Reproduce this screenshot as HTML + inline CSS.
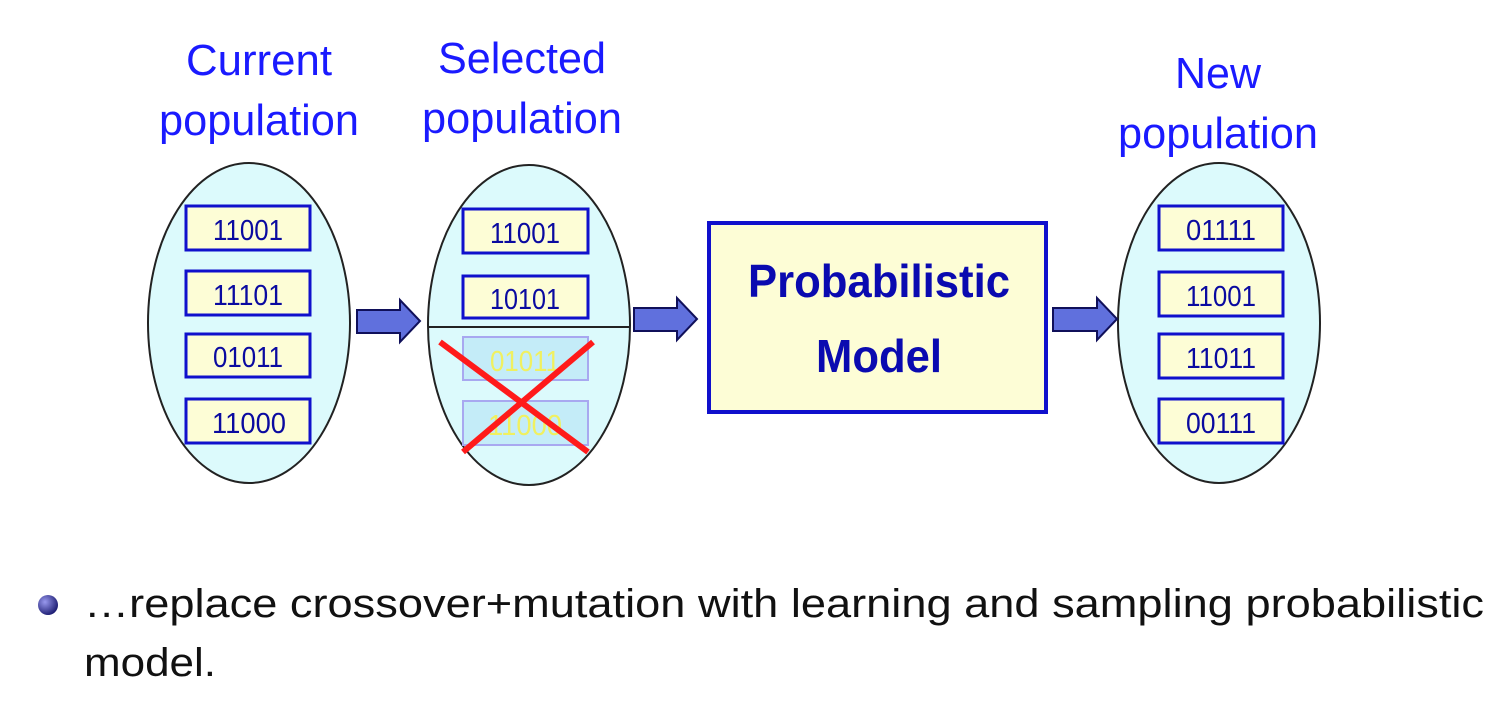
<!DOCTYPE html>
<html><head><meta charset="utf-8"><style>
html,body{margin:0;padding:0;background:#fff;width:1502px;height:716px;overflow:hidden}
svg{display:block}
</style></head><body>
<svg width="1502" height="716" viewBox="0 0 1502 716" xmlns="http://www.w3.org/2000/svg">
<defs>
<radialGradient id="bg" cx="0.35" cy="0.35" r="0.7">
<stop offset="0" stop-color="#9999ee"/><stop offset="1" stop-color="#1a1a70"/>
</radialGradient>
</defs>
<g font-family="Liberation Sans, Arial, sans-serif" fill="#1a1aff" font-size="44" text-anchor="middle">
<text x="259" y="75" textLength="146" lengthAdjust="spacingAndGlyphs">Current</text>
<text x="259" y="135" textLength="200" lengthAdjust="spacingAndGlyphs">population</text>
<text x="522" y="73" textLength="168" lengthAdjust="spacingAndGlyphs">Selected</text>
<text x="522" y="133" textLength="200" lengthAdjust="spacingAndGlyphs">population</text>
<text x="1218" y="88" textLength="86" lengthAdjust="spacingAndGlyphs">New</text>
<text x="1218" y="148" textLength="200" lengthAdjust="spacingAndGlyphs">population</text>
</g>
<g fill="#dcfafc" stroke="#222" stroke-width="2">
<ellipse cx="249" cy="323" rx="101" ry="160"/>
<ellipse cx="529" cy="325" rx="101" ry="160"/>
<ellipse cx="1219" cy="323" rx="101" ry="160"/>
</g>
<line x1="428" y1="327" x2="630" y2="327" stroke="#222" stroke-width="2"/>
<g fill="#fdfdd6" stroke="#1010cc" stroke-width="3">
<rect x="186" y="206" width="124" height="44"/>
<rect x="186" y="271" width="124" height="44"/>
<rect x="186" y="334" width="124" height="43"/>
<rect x="186" y="399" width="124" height="44"/>
<rect x="463" y="209" width="125" height="44"/>
<rect x="463" y="276" width="125" height="42"/>
<rect x="1159" y="206" width="124" height="44"/>
<rect x="1159" y="272" width="124" height="44"/>
<rect x="1159" y="334" width="124" height="44"/>
<rect x="1159" y="399" width="124" height="44"/>
</g>
<g fill="#c4ecf8" stroke="#a8a8f0" stroke-width="2">
<rect x="463" y="337" width="125" height="43"/>
<rect x="463" y="401" width="125" height="44"/>
</g>
<g font-family="Liberation Sans, Arial, sans-serif" font-size="29" fill="#0a0aa0" text-anchor="middle">
<text x="248" y="240" textLength="70" lengthAdjust="spacingAndGlyphs">11001</text>
<text x="248" y="305" textLength="70" lengthAdjust="spacingAndGlyphs">11101</text>
<text x="248" y="367" textLength="70" lengthAdjust="spacingAndGlyphs">01011</text>
<text x="249" y="433" textLength="74" lengthAdjust="spacingAndGlyphs">11000</text>
<text x="525" y="243" textLength="70" lengthAdjust="spacingAndGlyphs">11001</text>
<text x="525" y="309" textLength="70" lengthAdjust="spacingAndGlyphs">10101</text>
<text x="1221" y="240" textLength="70" lengthAdjust="spacingAndGlyphs">01111</text>
<text x="1221" y="306" textLength="70" lengthAdjust="spacingAndGlyphs">11001</text>
<text x="1221" y="368" textLength="70" lengthAdjust="spacingAndGlyphs">11011</text>
<text x="1221" y="433" textLength="70" lengthAdjust="spacingAndGlyphs">00111</text>
</g>
<g font-family="Liberation Sans, Arial, sans-serif" font-size="29" fill="#f0f060" text-anchor="middle">
<text x="525" y="371" textLength="70" lengthAdjust="spacingAndGlyphs">01011</text>
<text x="525" y="435" textLength="74" lengthAdjust="spacingAndGlyphs">11000</text>
</g>
<g stroke="#ff1a1a" stroke-width="6">
<line x1="440" y1="342" x2="588" y2="452"/>
<line x1="593" y1="342" x2="463" y2="452"/>
</g>
<g fill="#6070dd" stroke="#10105a" stroke-width="2">
<polygon points="357,310 400,310 400,300 420,321 400,342 400,333 357,333"/>
<polygon points="634,308 677,308 677,298 697,319 677,340 677,331 634,331"/>
<polygon points="1053,308 1097,308 1097,298 1117,319 1097,340 1097,331 1053,331"/>
</g>
<rect x="709" y="223" width="337" height="189" fill="#fdfdd6" stroke="#1010cc" stroke-width="4"/>
<g font-family="Liberation Sans, Arial, sans-serif" font-weight="bold" font-size="46" fill="#0a0ab0" text-anchor="middle">
<text x="879" y="297" textLength="262" lengthAdjust="spacingAndGlyphs">Probabilistic</text>
<text x="879" y="372" textLength="126" lengthAdjust="spacingAndGlyphs">Model</text>
</g>
<circle cx="48" cy="605" r="10" fill="url(#bg)"/>
<g font-family="Liberation Sans, Arial, sans-serif" font-size="40" fill="#111">
<text x="84" y="617" textLength="1400" lengthAdjust="spacingAndGlyphs">…replace crossover+mutation with learning and sampling probabilistic</text>
<text x="84" y="676" textLength="132" lengthAdjust="spacingAndGlyphs">model.</text>
</g>
</svg>
</body></html>
